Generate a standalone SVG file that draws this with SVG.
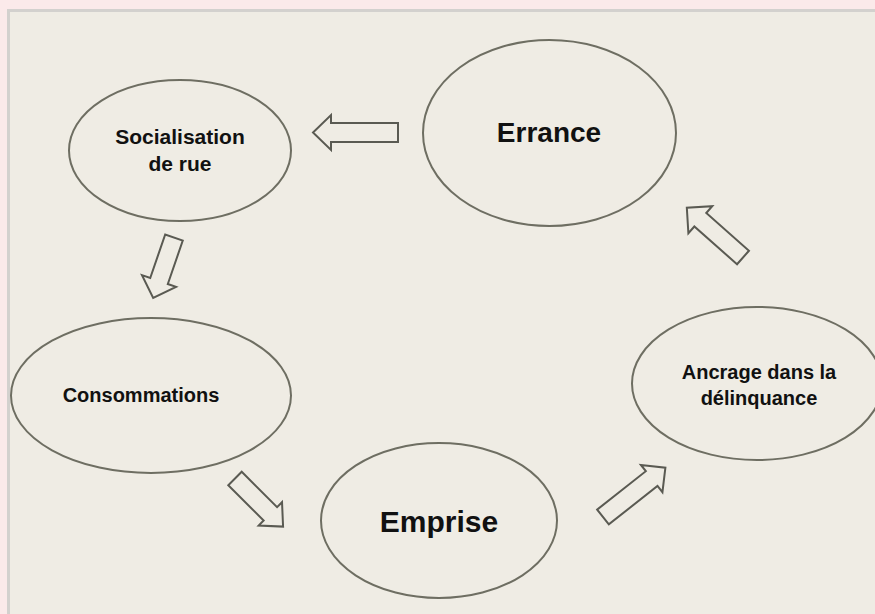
<svg xmlns="http://www.w3.org/2000/svg" width="875" height="614" viewBox="0 0 875 614">
  <style>
    .node ellipse { fill: none; stroke: #6e6e62; stroke-width: 2; }
    .conn polygon { fill: #efece4; stroke: #5a5a52; stroke-width: 2; stroke-linejoin: miter; }
    text { font-family: "Liberation Sans", Arial, sans-serif; font-weight: bold; fill: #111; text-anchor: middle; }
    .s { font-size: 20px; }
    .b { font-size: 28px; }
  </style>
  <rect x="0" y="0" width="875" height="614" fill="#fbeaea"/>
  <rect x="8.5" y="10.5" width="880" height="620" fill="#efece4" stroke="#d3d1ce" stroke-width="3"/>

  <g class="conn" id="connectors">
    <polygon transform="translate(398,132.5) rotate(180)" points="0,-9.5 67,-9.5 67,-17.5 85,0 67,17.5 67,9.5 0,9.5"/>
    <polygon transform="translate(174,237.5) rotate(109)" points="0,-9.3 46,-9.3 46,-18 64,0 46,18 46,9.3 0,9.3"/>
    <polygon transform="translate(235,478.5) rotate(45)" points="0,-9.5 50,-9.5 50,-16.5 68,0 50,16.5 50,9.5 0,9.5"/>
    <polygon transform="translate(603,517) rotate(-38.3)" points="0,-9.4 62,-9.4 62,-17.4 79.5,0 62,17.4 62,9.4 0,9.4"/>
    <polygon transform="translate(743,257.5) rotate(-138.5)" points="0,-9 57,-9 57,-18 75,0 57,18 57,9 0,9"/>
  </g>

  <g class="node" id="socialisation">
    <ellipse cx="180" cy="150.5" rx="111" ry="70.5"/>
    <text x="180" y="144" style="font-size:21px">Socialisation</text>
    <text x="180" y="171" style="font-size:21px">de rue</text>
  </g>
  <g class="node" id="errance">
    <ellipse cx="549.5" cy="133" rx="126.5" ry="93"/>
    <text class="b" x="549" y="142">Errance</text>
  </g>
  <g class="node" id="consommations">
    <ellipse cx="151" cy="395.5" rx="140" ry="77.5"/>
    <text class="s" x="141" y="402">Consommations</text>
  </g>
  <g class="node" id="emprise">
    <ellipse cx="439" cy="520.5" rx="118" ry="77.5"/>
    <text x="439" y="532" style="font-size:30px">Emprise</text>
  </g>
  <g class="node" id="ancrage">
    <ellipse cx="757" cy="383.5" rx="125" ry="76.5"/>
    <text class="s" x="759" y="379">Ancrage dans la</text>
    <text class="s" x="759" y="405">délinquance</text>
  </g>
</svg>
